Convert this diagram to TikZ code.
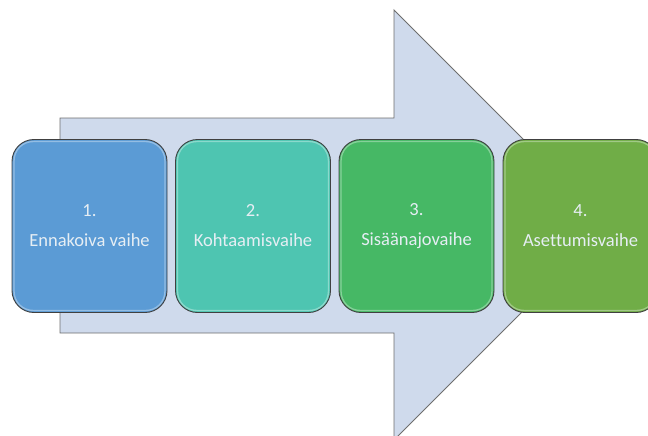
\documentclass[tikz,border=0pt]{standalone}
\usepackage{fontspec}
\setmainfont[Ligatures=NoCommon]{Carlito}
\begin{document}
\begin{tikzpicture}[x=1pt,y=-1pt,
  bigarrow/.style={fill=arrowfill, draw=arrowline, line width=0.9pt, line join=miter},
  phase/.style={rectangle, rounded corners=22pt, minimum width=155pt, minimum height=173pt,
    draw=boxline, line width=0.9pt, inner sep=0pt, align=center,
    text=labeltext, font=\fontsize{18.5}{30}\selectfont},
  sheen/.style={draw=white, draw opacity=0.35, line width=1.3pt, rounded corners=19pt}
]
\definecolor{arrowfill}{HTML}{CFDAEC}
\definecolor{arrowline}{HTML}{6E6E6E}
\definecolor{boxline}{HTML}{404040}
\definecolor{labeltext}{HTML}{E6EEF4}
\definecolor{phaseA}{HTML}{5B9BD5}
\definecolor{phaseB}{HTML}{4EC5B1}
\definecolor{phaseC}{HTML}{46B865}
\definecolor{phaseD}{HTML}{70AD47}

\useasboundingbox (0,0) rectangle (648,436);
\begin{scope}
\clip (0,0) rectangle (648,436);

% the wide block arrow behind the phases
\draw[bigarrow] (60,118) -- (394,118) -- (394,10) -- (609,225)
  -- (394,440) -- (394,333) -- (60,333) -- cycle;

% the four phases
\node[phase, fill=phaseA] (b1) at (89.5,226) {1.\\Ennakoiva vaihe};
\node[phase, fill=phaseB] (b2) at (253,226)  {2.\\Kohtaamisvaihe};
\node[phase, fill=phaseC] (b3) at (416.5,226) {3.\\Sisäänajovaihe};
\node[phase, fill=phaseD] (b4) at (580.5,226) {4.\\Asettumisvaihe};

% soft inner highlight on each box
\foreach \n in {b1,b2,b3,b4}
  \draw[sheen] ([xshift=2.5pt,yshift=-2.5pt]\n.north west)
    rectangle ([xshift=-2.5pt,yshift=2.5pt]\n.south east);
\end{scope}
\end{tikzpicture}
\end{document}
